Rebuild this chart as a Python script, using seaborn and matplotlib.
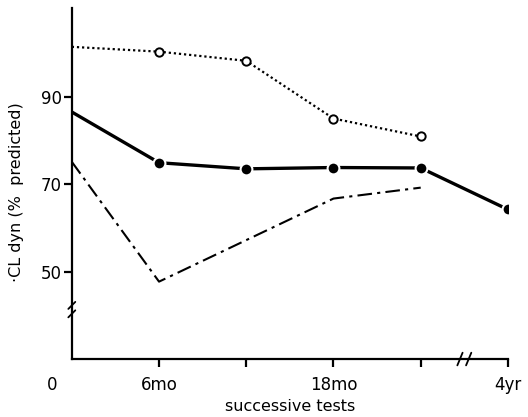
import numpy as np
import pandas as pd
import seaborn as sns
import matplotlib.pyplot as plt

# test index: 0 = start, 1 = 6mo, 2 = 12mo, 3 = 18mo, 4 = 24mo, 5 = 4yr
upper_x = [0, 1, 2, 3, 4]
upper_y = [101.4, 100.3, 98.2, 85.0, 80.9]
mean_x = [0, 1, 2, 3, 4, 5]
mean_y = [86.5, 74.9, 73.5, 73.8, 73.7, 64.2]
lower_x = [0, 1, 3, 4]
lower_y = [75.1, 47.7, 66.7, 69.2]

x_ticks = [1, 2, 3, 4, 5]
x_labels = ["6mo", "", "18mo", "", "4yr"]
y_ticks = [50, 70, 90]

sns.set_style("ticks")
plt.rcParams["font.family"] = ["DejaVu Sans"]

fig = plt.figure(figsize=(5.28, 4.17), dpi=100)
ax = fig.add_axes([0.136, 0.139, 0.826, 0.842])

up = pd.DataFrame({"x": upper_x, "y": upper_y})
mn = pd.DataFrame({"x": mean_x, "y": mean_y})
lo = pd.DataFrame({"x": lower_x, "y": lower_y})

sns.lineplot(data=lo, x="x", y="y", ax=ax, color="black", linewidth=1.5,
             linestyle=(0, (7, 2.5, 1.5, 2.5)))
sns.lineplot(data=up, x="x", y="y", ax=ax, color="black", linewidth=1.6,
             linestyle=(0, (1, 1.3)))
ax.plot(up["x"][1:], up["y"][1:], "o", ms=6, mfc="white", mec="black", mew=1.4)
sns.lineplot(data=mn, x="x", y="y", ax=ax, color="black", linewidth=2.4)
ax.plot(mn["x"][1:], mn["y"][1:], "o", ms=8.5, mfc="black", mec="white", mew=1.5)

ax.set_xlim(0, 5)
ax.set_ylim(30, 110.3)
ax.set_xticks(x_ticks)
ax.set_xticklabels(x_labels)
ax.set_yticks(y_ticks)
ax.tick_params(axis="both", direction="out", length=6, width=1.6, labelsize=12,
               color="black", labelcolor="black")
ax.tick_params(axis="x", pad=6)
ax.tick_params(axis="y", pad=1)
for s in ["top", "right"]:
    ax.spines[s].set_visible(False)
for s in ["left", "bottom"]:
    ax.spines[s].set_linewidth(1.6)
    ax.spines[s].set_color("black")

ax.text(-0.22, -0.074, "0", transform=ax.get_xaxis_transform(), fontsize=12,
        ha="center", va="center", color="black")
ax.set_xlabel("successive tests", fontsize=11.5, color="black")
ax.set_ylabel("·CL dyn (%  predicted)", fontsize=11.5, color="black")
ax.yaxis.set_label_coords(-0.11, 0.476)
ax.xaxis.set_label_coords(0.5, -0.115)

# axis breaks
kw = dict(color="black", lw=1.3, clip_on=False, transform=ax.transAxes)
yb = (41.3 - 30) / 80.3
ax.plot([0, 0], [yb - 0.012, yb + 0.012], color="white", lw=3, clip_on=False,
        transform=ax.transAxes)
ax.plot([-0.008, 0.008], [yb - 0.022, yb - 0.002], **kw)
ax.plot([-0.008, 0.008], [yb + 0.002, yb + 0.022], **kw)
xb = 4.5 / 5
ax.plot([xb - 0.012, xb + 0.012], [0, 0], color="white", lw=3, clip_on=False,
        transform=ax.transAxes)
ax.plot([xb - 0.016, xb - 0.004], [-0.018, 0.018], **kw)
ax.plot([xb + 0.004, xb + 0.016], [-0.018, 0.018], **kw)

fig.savefig("out.png", dpi=100)
